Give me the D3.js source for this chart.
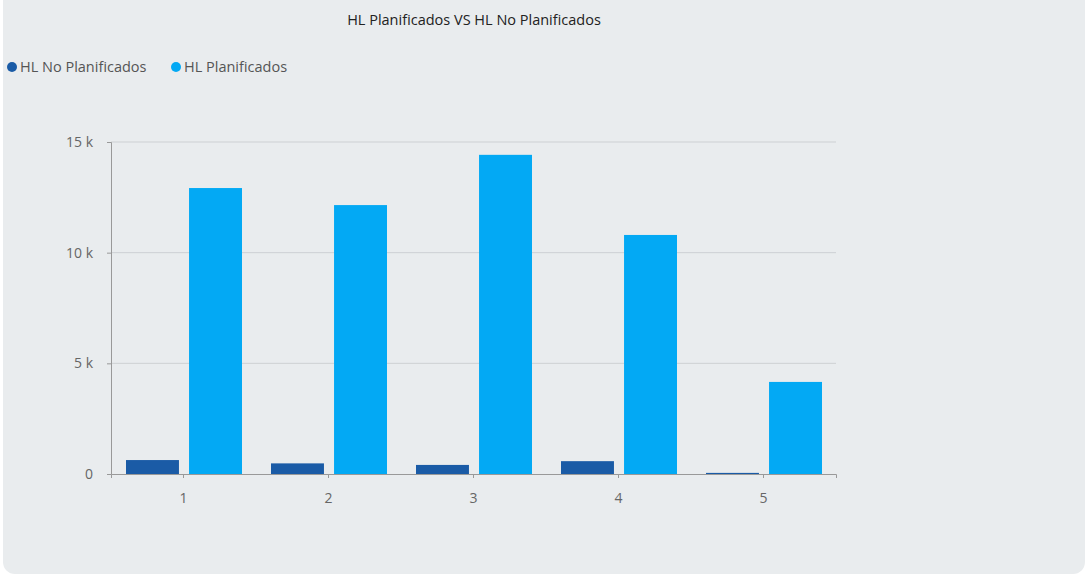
<html>
<head>
<meta charset="utf-8">
<style>
  body { margin: 0; background: #fff; }
  text { font-family: "Open Sans", sans-serif; }
</style>
</head>
<body>
<script src="https://cdn.jsdelivr.net/npm/d3@7"></script>
<script>
var categories = ["1", "2", "3", "4", "5"];
var noPlan = [630, 480, 410, 580, 50];
var plan = [12920, 12150, 14420, 10800, 4160];
var seriesNames = ["HL No Planificados", "HL Planificados"];
var colors = ["#1a5ba6", "#03a9f4"];
var yTicks = [0, 5000, 10000, 15000];

var width = 1088, height = 575;
var svg = d3.select("body").append("svg")
    .attr("width", width)
    .attr("height", height);

// card
svg.append("rect")
    .attr("x", 3).attr("y", -12)
    .attr("width", 1082).attr("height", 586)
    .attr("rx", 12)
    .attr("fill", "#e9ecee");

svg.append("text")
    .attr("x", 474).attr("y", 25)
    .attr("text-anchor", "middle")
    .attr("font-size", 14.5)
    .attr("fill", "#222")
    .text("HL Planificados VS HL No Planificados");

// legend
var legendX = [12, 176];
seriesNames.forEach(function(name, i) {
  var g = svg.append("g").attr("transform", "translate(" + legendX[i] + ",67)");
  g.append("circle").attr("r", 5).attr("fill", colors[i]);
  g.append("text").attr("x", 8).attr("dy", "0.35em")
    .attr("font-size", 14.5).attr("fill", "#555").text(name);
});

var x = d3.scaleBand().domain(categories).range([111, 836]);
var inner = d3.scaleBand().domain([0, 1]).range([15, 131]).paddingInner(0.16);
var y = d3.scaleLinear().domain([0, 15000]).range([474, 142]);

// grid
svg.append("g").selectAll("line")
  .data(yTicks.slice(1))
  .join("line")
  .attr("x1", 111).attr("x2", 836)
  .attr("y1", d => y(d)).attr("y2", d => y(d))
  .attr("stroke", "#cdd0d3");

// bars
var series = [noPlan, plan];
series.forEach(function(vals, s) {
  svg.append("g").selectAll("rect")
    .data(vals)
    .join("rect")
    .attr("x", (d, i) => x(categories[i]) + inner(s))
    .attr("width", inner.bandwidth())
    .attr("y", d => y(d))
    .attr("height", d => y(0) - y(d))
    .attr("fill", colors[s]);
});

// y axis
var yAxis = svg.append("g")
  .attr("transform", "translate(111,0)")
  .call(d3.axisLeft(y).tickValues(yTicks).tickSize(4).tickPadding(14)
    .tickFormat(d => d === 0 ? "0" : (d / 1000) + " k"));
yAxis.select(".domain").attr("stroke", "#999");
yAxis.selectAll(".tick line").attr("stroke", "#999");
yAxis.selectAll("text").attr("font-size", 14).attr("fill", "#666");

// x axis
var xAxis = svg.append("g")
  .attr("transform", "translate(0,474)")
  .call(d3.axisBottom(x).tickSizeOuter(0).tickSize(4).tickPadding(15));
xAxis.select(".domain").attr("stroke", "#999");
xAxis.selectAll(".tick line").attr("stroke", "#999");
xAxis.selectAll("text").attr("font-size", 14).attr("fill", "#666");
</script>
</body>
</html>
